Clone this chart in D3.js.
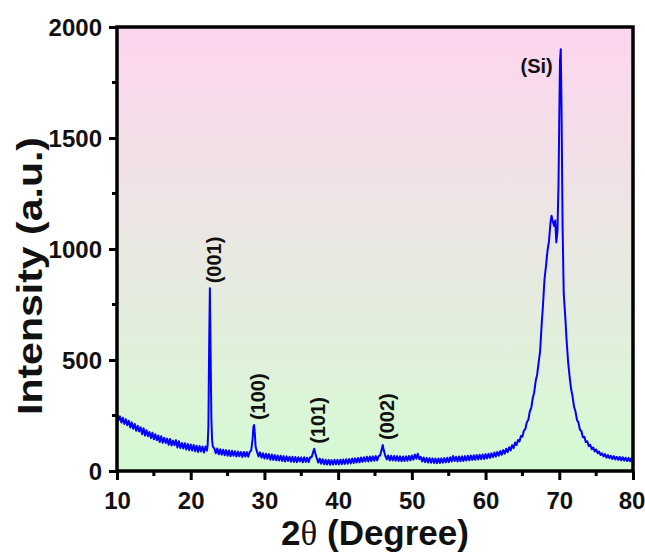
<!DOCTYPE html>
<html>
<head>
<meta charset="utf-8">
<script src="https://d3js.org/d3.v7.min.js"></script>
<style>
body { margin: 0; background: #fff; }
svg text { font-family: "Liberation Sans", Arial, sans-serif; font-weight: bold; fill: #111; }
</style>
</head>
<body>
<svg id="chart" width="645" height="553"></svg>
<script>
// XRD scan: [2theta, intensity]
const scan = [
  [10.0,255],[10.2,228],[10.4,246],[10.6,218],[10.8,240],[11.0,212],[11.2,233],[11.4,206],[11.6,226],[11.8,196],
  [12.0,219],[12.2,190],[12.4,212],[12.6,181],[12.8,204],[13.0,178],[13.2,197],[13.4,166],[13.6,193],[13.8,160],
  [14.0,184],[14.2,157],[14.4,176],[14.6,148],[14.8,172],[15.0,143],[15.2,166],[15.4,139],[15.6,160],[15.8,131],
  [16.0,157],[16.2,127],[16.4,150],[16.6,126],[16.8,146],[17.0,118],[17.2,144],[17.4,115],[17.6,137],[17.8,116],
  [18.0,139],[18.2,106],[18.4,134],[18.6,104],[18.8,126],[19.0,101],[19.2,125],[19.4,97],[19.6,122],[19.8,93],
  [20.0,119],[20.2,92],[20.4,117],[20.6,89],[20.8,114],[21.0,86],[21.2,113],[21.4,88],[21.6,110],[21.8,83],
  [22.0,110],[22.2,92],[22.3,118],[22.4,200],[22.5,560],[22.6,823],[22.7,520],[22.8,240],[22.9,140],[23.0,110],
  [23.2,102],[23.4,80],[23.6,101],[23.8,75],[24.0,98],[24.2,73],[24.4,96],[24.6,71],[24.8,94],[25.0,69],
  [25.2,92],[25.4,67],[25.6,91],[25.8,69],[26.0,89],[26.2,65],[26.4,88],[26.6,67],[26.8,86],[27.0,63],
  [27.2,86],[27.4,65],[27.6,85],[27.8,64],[28.0,86],[28.2,92],[28.4,145],[28.5,198],[28.6,207],[28.7,168],
  [28.8,110],[29.0,86],[29.2,66],[29.4,84],[29.6,60],[29.8,80],[30.0,56],[30.2,78],[30.4,55],[30.6,76],
  [30.8,51],[31.0,74],[31.2,50],[31.4,72],[31.6,48],[31.8,70],[32.0,47],[32.2,69],[32.4,45],[32.6,67],
  [32.8,43],[33.0,66],[33.2,45],[33.4,64],[33.6,42],[33.8,64],[34.0,41],[34.2,63],[34.4,40],[34.6,62],
  [34.8,43],[35.0,61],[35.2,39],[35.4,62],[35.6,41],[35.8,60],[36.0,40],[36.2,62],[36.4,62],[36.6,84],
  [36.75,100],[36.9,80],[37.1,58],[37.3,38],[37.5,56],[37.7,33],[37.9,53],[38.1,30],[38.3,51],[38.5,29],
  [38.7,50],[38.9,28],[39.1,49],[39.3,29],[39.5,51],[39.7,30],[39.9,50],[40.1,29],[40.3,51],[40.5,31],
  [40.7,52],[40.9,32],[41.1,53],[41.3,33],[41.5,54],[41.7,34],[41.9,56],[42.1,36],[42.3,57],[42.5,38],
  [42.7,59],[42.9,39],[43.1,61],[43.3,41],[43.5,62],[43.7,43],[43.9,64],[44.1,43],[44.3,65],[44.5,45],
  [44.7,66],[44.9,46],[45.1,67],[45.3,48],[45.5,68],[45.7,70],[45.9,96],[46.05,117],[46.2,92],[46.4,68],
  [46.6,52],[46.8,70],[47.0,48],[47.2,69],[47.4,47],[47.6,68],[47.8,46],[48.0,67],[48.2,45],[48.4,66],
  [48.6,44],[48.8,65],[49.0,45],[49.2,66],[49.4,46],[49.6,68],[49.8,48],[50.0,70],[50.2,51],[50.4,74],
  [50.6,55],[50.8,78],[51.0,53],[51.2,64],[51.4,43],[51.6,61],[51.8,40],[52.0,59],[52.2,38],[52.4,58],
  [52.6,37],[52.8,57],[53.0,36],[53.2,56],[53.4,35],[53.6,56],[53.8,36],[54.0,57],[54.2,37],[54.4,58],
  [54.6,39],[54.8,60],[55.0,40],[55.2,62],[55.4,43],[55.6,68],[55.8,45],[56.0,64],[56.2,43],[56.4,65],
  [56.6,44],[56.8,66],[57.0,45],[57.2,67],[57.4,47],[57.6,69],[57.8,48],[58.0,70],[58.2,50],[58.4,71],
  [58.6,51],[58.8,72],[59.0,52],[59.2,73],[59.4,53],[59.6,74],[59.8,54],[60.0,76],[60.2,57],[60.4,78],
  [60.6,59],[60.8,80],[61.0,62],[61.2,83],[61.4,65],[61.6,86],[61.8,69],[62.0,90],[62.2,73],[62.4,94],
  [62.6,78],[62.8,100],[63.0,85],[63.2,107],[63.4,93],[63.6,116],[63.8,103],[64.0,128],[64.2,117],[64.4,140],
  [64.6,133],[64.8,158],[65.0,155],[65.2,182],[65.4,189],[65.6,220],[65.8,231],[66.0,268],[66.2,284],[66.4,328],
  [66.6,355],[66.8,405],[67.0,435],[67.2,488],[67.4,540],[67.6,655],[67.8,752],[68.0,866],[68.2,924],[68.4,992],
  [68.6,1034],[68.8,1116],[68.95,1150],[69.1,1126],[69.3,1104],[69.45,1128],[69.6,1030],[69.75,1080],[69.9,1300],[70.0,1600],
  [70.1,1850],[70.2,1900],[70.3,1650],[70.45,1100],[70.6,800],[70.8,700],[71.0,585],[71.2,490],[71.4,425],[71.6,370],
  [71.8,336],[72.0,290],[72.2,268],[72.4,230],[72.6,218],[72.8,186],[73.0,180],[73.2,152],[73.4,154],[73.6,130],
  [73.8,134],[74.0,112],[74.2,118],[74.4,98],[74.6,106],[74.8,88],[75.0,97],[75.2,80],[75.4,88],[75.6,72],
  [75.8,80],[76.0,66],[76.2,76],[76.4,60],[76.6,72],[76.8,58],[77.0,69],[77.2,54],[77.4,67],[77.6,52],
  [77.8,64],[78.0,50],[78.2,63],[78.4,48],[78.6,62],[78.8,47],[79.0,60],[79.2,45],[79.4,59],[79.6,44],
  [79.8,58],[80.0,46]
];

// peak annotations
const peakNames = ["(001)", "(100)", "(101)", "(002)"];
const peakPos = [22.6, 28.6, 36.75, 46.05];
const peakInt = [823, 207, 100, 117];
const siName = "(Si)";
const siPos = 70.2;
const siInt = 1900;

const xTicks = [10, 20, 30, 40, 50, 60, 70, 80];
const xMinor = [15, 25, 35, 45, 55, 65, 75];
const yTicks = [0, 500, 1000, 1500, 2000];
const yMinor = [250, 750, 1250, 1750];

const svg = d3.select("#chart");
const L = 117, R = 633, T = 27, B = 471;

const x = d3.scaleLinear([10, 80], [L, R]);
const y = d3.scaleLinear([0, 2000], [B, T]);

// background gradient
const defs = svg.append("defs");
const grad = defs.append("linearGradient").attr("id", "bg")
  .attr("x1", 0).attr("y1", 0).attr("x2", 0).attr("y2", 1);
grad.append("stop").attr("offset", "0%").attr("stop-color", "#fdd5ef");
grad.append("stop").attr("offset", "100%").attr("stop-color", "#d5fad3");
defs.append("clipPath").attr("id", "clip")
  .append("rect").attr("x", L).attr("y", T).attr("width", R - L).attr("height", B - T);

svg.append("rect").attr("x", L).attr("y", T).attr("width", R - L).attr("height", B - T)
  .attr("fill", "url(#bg)");

// curve
const line = d3.line().x(d => x(d[0])).y(d => y(d[1]));
svg.append("path").datum(scan)
  .attr("clip-path", "url(#clip)")
  .attr("fill", "none").attr("stroke", "#0000ff")
  .attr("stroke-width", 2).attr("stroke-linejoin", "round")
  .attr("d", line);

// axes
const xAxis = svg.append("g").attr("transform", `translate(0,${B})`)
  .call(d3.axisBottom(x).tickValues(xTicks).tickSize(9).tickPadding(12).tickFormat(d3.format("d")));
xAxis.append("g").selectAll("line").data(xMinor).join("line")
  .attr("x1", d => x(d)).attr("x2", d => x(d)).attr("y1", 0).attr("y2", 5)
  .attr("stroke", "#000").attr("stroke-width", 3);

const yAxis = svg.append("g").attr("transform", `translate(${L},0)`)
  .call(d3.axisLeft(y).tickValues(yTicks).tickSize(8).tickPadding(7).tickFormat(d3.format("d")));
yAxis.append("g").selectAll("line").data(yMinor).join("line")
  .attr("y1", d => y(d)).attr("y2", d => y(d)).attr("x1", 0).attr("x2", -5)
  .attr("stroke", "#000").attr("stroke-width", 3);

[xAxis, yAxis].forEach(g => {
  g.select(".domain").remove();
  g.selectAll(".tick line").attr("stroke", "#000").attr("stroke-width", 3);
  g.selectAll(".tick text").style("font-size", "24px").attr("fill", "#111");
});
yAxis.selectAll(".tick text").attr("dy", "0.36em");
// last x label sits against the right edge in the original
xAxis.selectAll(".tick text").filter(d => d === 80).attr("dx", -1.5);

// frame
svg.append("rect").attr("x", L).attr("y", T).attr("width", R - L).attr("height", B - T)
  .attr("fill", "none").attr("stroke", "#000").attr("stroke-width", 3.5);

// peak labels
svg.append("g").selectAll("text").data(peakNames).join("text")
  .attr("transform", (d, i) => `translate(${x(peakPos[i]) + 4},${y(peakInt[i]) - 5}) rotate(-90)`)
  .attr("dominant-baseline", "central")
  .style("font-size", "20px")
  .text(d => d);

svg.append("text")
  .attr("x", x(siPos) - 8).attr("y", y(siInt) + 24)
  .attr("text-anchor", "end")
  .style("font-size", "20px")
  .text(siName);

// axis titles
svg.append("text")
  .attr("transform", "translate(29,276) rotate(-90)")
  .attr("text-anchor", "middle").attr("dominant-baseline", "central")
  .attr("textLength", 278).attr("lengthAdjust", "spacingAndGlyphs")
  .style("font-size", "35px")
  .text("Intensity (a.u.)");

const xt = svg.append("text")
  .attr("x", 375).attr("y", 545)
  .attr("text-anchor", "middle")
  .style("font-size", "35px");
xt.append("tspan").text("2");
xt.append("tspan").style("font-family", "'Liberation Serif', serif").style("font-weight", "normal").text("θ");
xt.append("tspan").text(" (Degree)");
</script>
</body>
</html>
